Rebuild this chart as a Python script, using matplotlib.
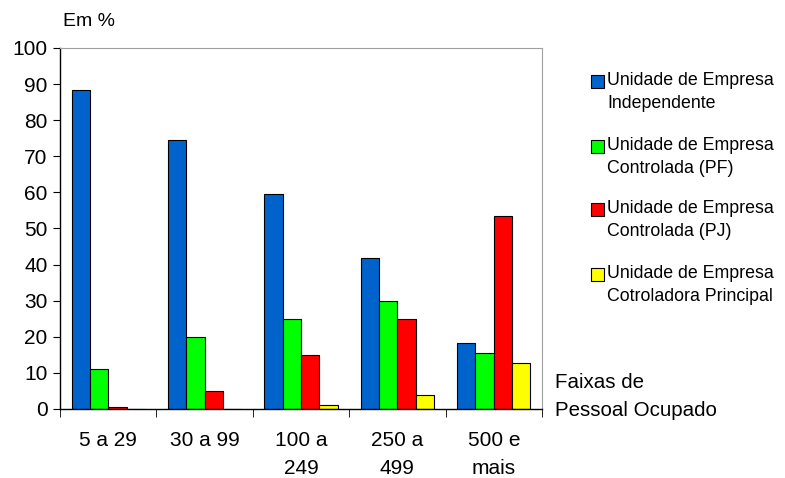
import numpy as np
import matplotlib.pyplot as plt
from matplotlib.patches import Rectangle

plt.rcParams['font.family'] = ['Liberation Sans', 'DejaVu Sans']

faixas = ['5 a 29', '30 a 99', '100 a\n249', '250 a\n499', '500 e\nmais']
series = ['Unidade de Empresa\nIndependente',
          'Unidade de Empresa\nControlada (PF)',
          'Unidade de Empresa\nControlada (PJ)',
          'Unidade de Empresa\nCotroladora Principal']
independente = [88.3, 74.4, 59.5, 41.7, 18.3]
controlada_pf = [11.0, 19.9, 25.0, 30.0, 15.4]
controlada_pj = [0.5, 4.9, 15.0, 25.0, 53.5]
controladora = [0.0, 0.0, 1.0, 3.8, 12.8]
cores = ['#0063CC', '#00FF00', '#FF0000', '#FFFF00']

valores = [independente, controlada_pf, controlada_pj, controladora]

fig = plt.figure(figsize=(7.85, 4.78), dpi=100)
ax = fig.add_axes([60/785, 1-409/478, 482/785, 361/478])

x = np.arange(len(faixas))
w = 0.19
for i, (vals, cor) in enumerate(zip(valores, cores)):
    ax.bar(x + (i - 1.5) * w, vals, w, color=cor, edgecolor='black', linewidth=0.8)

ax.set_xlim(-0.5, len(faixas) - 0.5)
ax.set_ylim(0, 100)
ax.set_yticks(range(0, 101, 10))
ax.tick_params(axis='y', labelsize=15, length=5, direction='out', pad=4)
ax.set_xticks(x)
ax.set_xticklabels(faixas, fontsize=15, linespacing=1.6, va='top')
ax.tick_params(axis='x', length=0, pad=16)
ax.set_xticks(np.arange(len(faixas) + 1) - 0.5, minor=True)
ax.tick_params(axis='x', which='minor', length=6, direction='out')

ax.spines['top'].set_color('#A0A0A0')
ax.spines['right'].set_color('#A0A0A0')
for s in ['left', 'bottom']:
    ax.spines[s].set_color('black')
    ax.spines[s].set_linewidth(1.0)

fig.text(63/785, 1-22/478, 'Em %', fontsize=14, va='center', ha='left')
fig.text(555/785, 1-382/478, 'Faixas de', fontsize=14.8, va='center', ha='left')
fig.text(555/785, 1-410/478, 'Pessoal Ocupado', fontsize=14.8, va='center', ha='left')

# legenda manual
ys = [80, 145, 208, 273]
for lab, cor, yy in zip(series, cores, ys):
    fig.add_artist(Rectangle((591/785, 1-(yy+8)/478), 13/785, 13/478,
                             transform=fig.transFigure, facecolor=cor,
                             edgecolor='black', linewidth=0.8))
    fig.text(607/785, 1-(yy-8)/478, lab, fontsize=12.8, va='top', ha='left',
             linespacing=1.45)

fig.savefig('out.png', dpi=100)
